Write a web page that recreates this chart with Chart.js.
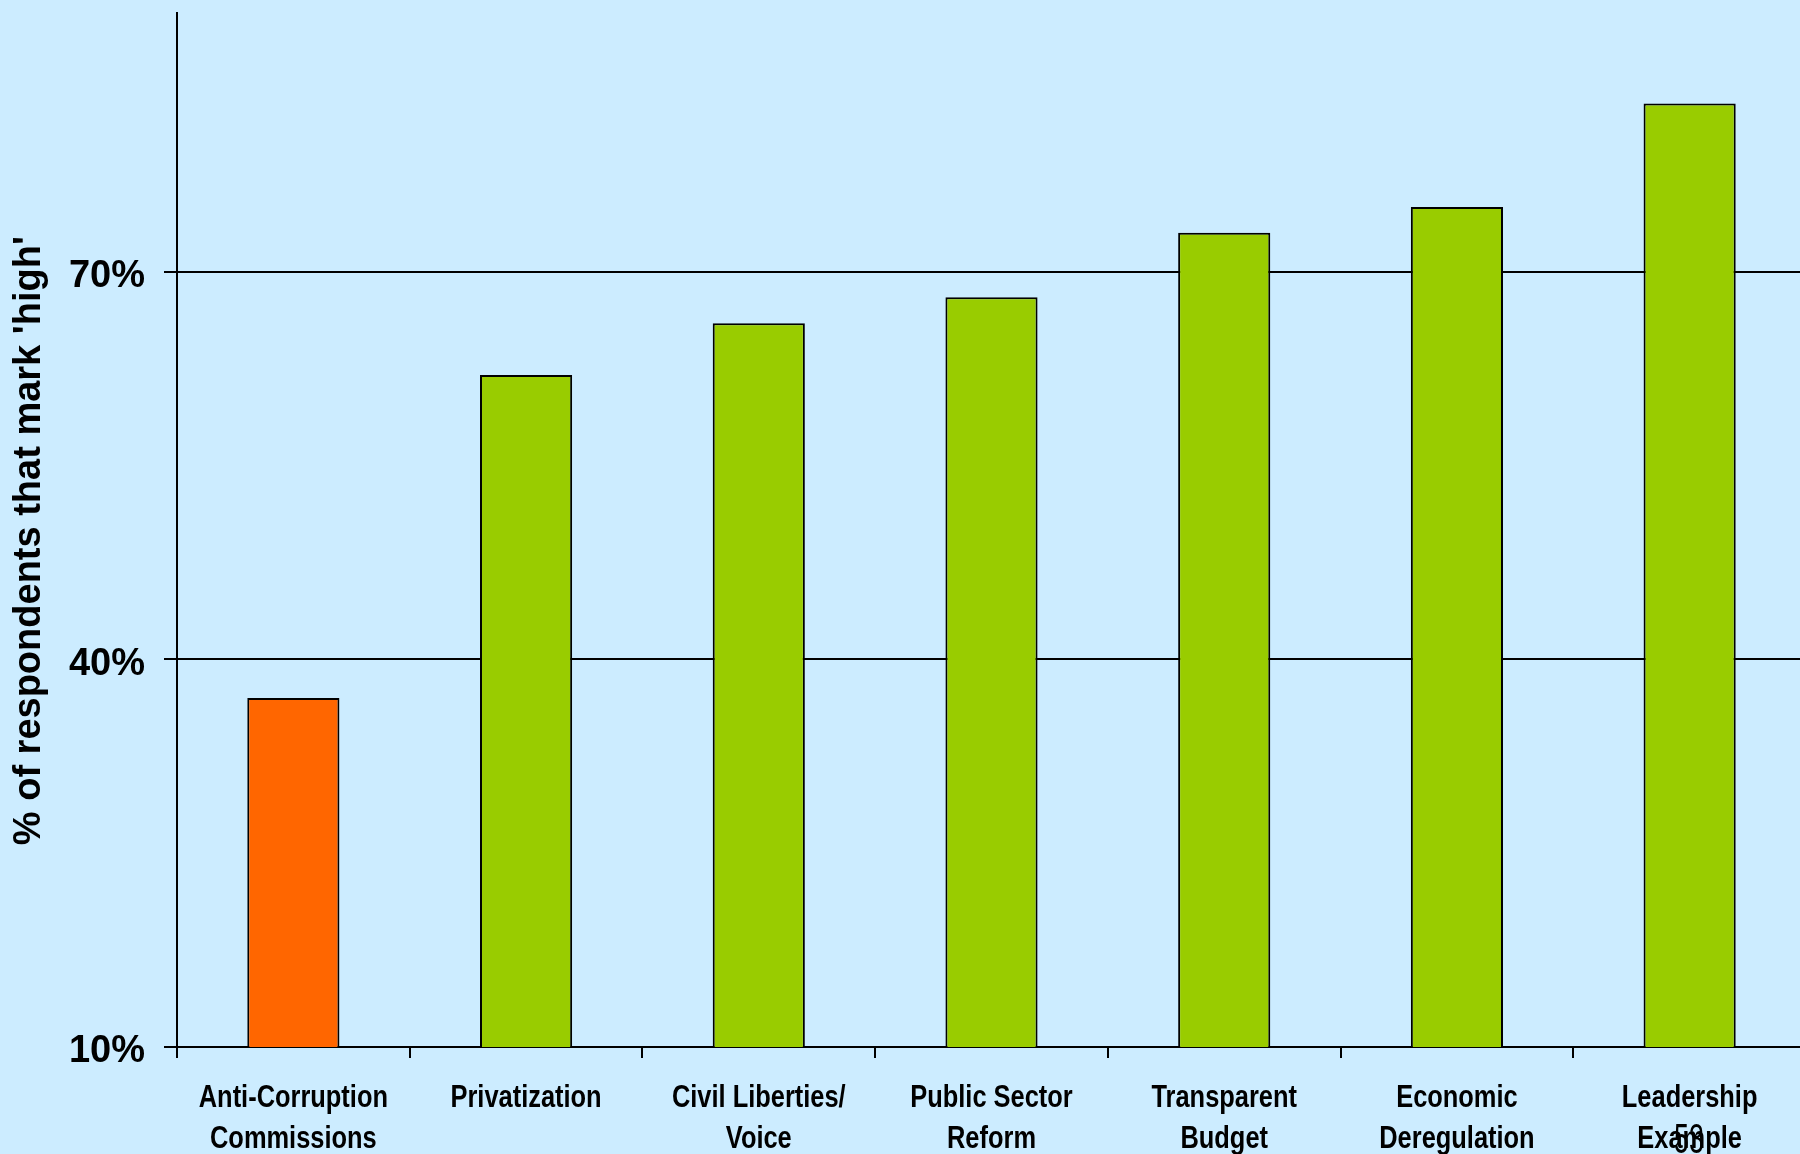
<!DOCTYPE html>
<html>
<head>
<meta charset="utf-8">
<script src="https://cdn.jsdelivr.net/npm/chart.js@4/dist/chart.umd.min.js"></script>
<style>
  html, body { margin: 0; padding: 0; background: #CCECFF; overflow: hidden; width: 1800px; height: 1154px; }
  #wrap { position: relative; width: 1806px; height: 1154px; }
  #slideNum { position: absolute; left: 1674px; top: 1118px; font-family: "Liberation Sans", Arial, sans-serif; font-size: 42px; line-height: 42px; color: #000; transform: scaleX(0.64); transform-origin: left top; }
</style>
</head>
<body>
<div id="wrap">
  <canvas id="c" width="1806" height="1154"></canvas>
  <div id="slideNum">53</div>
</div>
<script>
const categories = [
  ["Anti-Corruption", "Commissions"],
  ["Privatization"],
  ["Civil Liberties/", "Voice"],
  ["Public Sector", "Reform"],
  ["Transparent", "Budget"],
  ["Economic", "Deregulation"],
  ["Leadership", "Example"]
];
const values = [37, 62, 66, 68, 73, 75, 83];
const yTicks = [10, 40, 70];
const yMin = 10;
const yMax = 90;
const yTitle = "% of respondents that mark 'high'  ";

const ORANGE = '#FF6600';
const GREEN = '#99CC00';
const colors = values.map((v, i) => i === 0 ? ORANGE : GREEN);

// Draws the category labels of the x scale in a condensed face (narrow font not installed)
const narrowLabels = {
  id: 'narrowLabels',
  afterDraw(chart) {
    const xs = chart.scales.x;
    const ctx = chart.ctx;
    const size = 31, lh = 40.5, squeeze = 0.82;
    ctx.save();
    ctx.fillStyle = '#000';
    ctx.font = 'bold ' + size + 'px "Liberation Sans", Arial, sans-serif';
    ctx.textAlign = 'center';
    ctx.textBaseline = 'alphabetic';
    const base = xs.top + 60;
    xs.ticks.forEach((t, i) => {
      const x = xs.getPixelForTick(i);
      const lines = [].concat(chart.data.labels[i]);
      lines.forEach((line, j) => {
        ctx.save();
        ctx.translate(x, base + j * lh);
        ctx.scale(squeeze, 1);
        ctx.fillText(line, 0, 0);
        ctx.restore();
      });
    });
    ctx.restore();
  }
};

new Chart(document.getElementById('c'), {
  type: 'bar',
  data: {
    labels: categories,
    datasets: [{
      data: values,
      backgroundColor: colors,
      borderColor: '#000',
      borderWidth: 2,
      categoryPercentage: 1,
      barPercentage: 0.396
    }]
  },
  plugins: [narrowLabels],
  options: {
    responsive: false,
    animation: false,
    layout: { padding: { top: 13, left: 0, right: 0, bottom: 0 } },
    plugins: { legend: { display: false }, tooltip: { enabled: false } },
    scales: {
      x: {
        offset: true,
        border: { display: true, color: '#000', width: 2 },
        grid: { display: true, drawOnChartArea: false, drawTicks: true, tickLength: 11, color: '#000', lineWidth: 2, offset: true },
        ticks: {
          color: 'rgba(0,0,0,0)',
          padding: 14,
          maxRotation: 0,
          autoSkip: false,
          font: { family: '"Liberation Sans", sans-serif', size: 20, weight: 'bold' }
        },
        afterFit: (s) => { s.height = 107; s.paddingLeft = 0; s.paddingRight = 0; }
      },
      y: {
        min: yMin,
        max: yMax,
        border: { display: true, color: '#000', width: 2 },
        grid: { color: '#000', lineWidth: 2, tickLength: 13, drawTicks: true },
        afterBuildTicks: (s) => { s.ticks = yTicks.map(v => ({ value: v })); },
        ticks: {
          color: '#000',
          padding: 19,
          labelOffset: 5,
          font: { family: '"Liberation Sans", Arial, sans-serif', size: 38, weight: 'bold' },
          callback: (v) => v + '%'
        },
        title: {
          display: true,
          text: yTitle,
          color: '#000',
          padding: { top: 7, bottom: 0 },
          font: { family: '"Liberation Sans", Arial, sans-serif', size: 38, weight: 'bold', lineHeight: 1.2 }
        },
        afterFit: (s) => { s.width = 177; s.paddingTop = 0; s.paddingBottom = 0; }
      }
    }
  }
});
</script>
</body>
</html>
